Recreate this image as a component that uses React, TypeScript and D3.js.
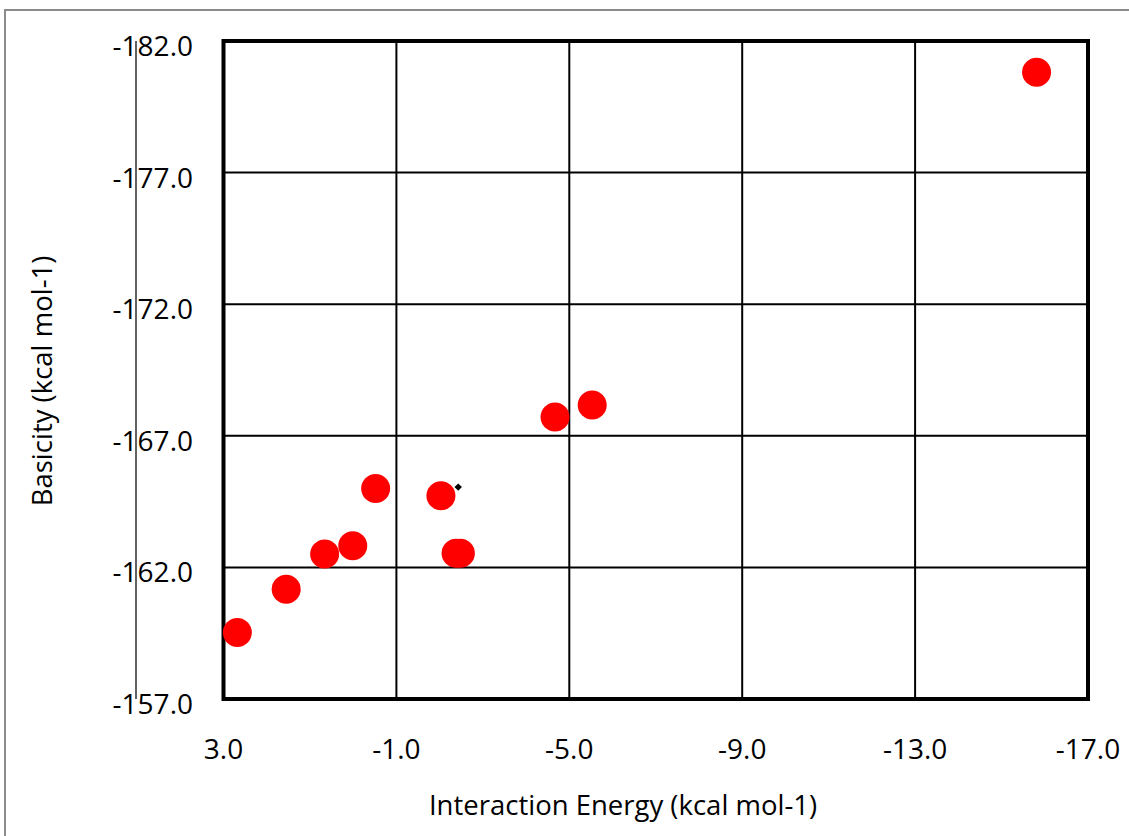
import * as d3 from 'd3';

// interaction energy (x) vs basicity (y), both kcal mol-1
const energy = [2.68, 1.55, 0.66, 0.01, -0.52, -2.03, -2.38, -2.48, -4.67, -5.53, -15.81];
const basicity = [-159.53, -161.17, -162.51, -162.82, -165.0, -164.72, -162.54, -162.54, -167.71, -168.17, -180.81];

// the tiny black marker next to the -2.0 point
const markEnergy = [-2.43];
const markBasicity = [-165.05];

const xTicks = [3, -1, -5, -9, -13, -17];
const yTicks = [-157, -162, -167, -172, -177, -182];

const W = 1129;
const H = 836;
const margin = { top: 41, right: 41, bottom: 137, left: 223.5 };
const FONT = '"Open Sans", Lato, sans-serif';

export default function App() {
  const x = d3.scaleLinear().domain([3, -17]).range([margin.left, W - margin.right]);
  const y = d3.scaleLinear().domain([-157, -182]).range([H - margin.bottom, margin.top]);
  const [x0, x1] = x.range();
  const [y0, y1] = y.range();

  const marker = d3.symbol().type(d3.symbolSquare).size(28)();

  return (
    <div style={{ position: 'absolute', left: 0, top: 0 }}>
      <svg width={W} height={H} style={{ display: 'block', background: '#fff' }}>
        {/* outer frame */}
        <rect x={5} y={10} width={1300} height={1000} fill="none" stroke="#8c8c8c" strokeWidth={2} />

        {/* stray axis line left of the labels */}
        <line x1={136} x2={136} y1={y1} y2={y0} stroke="#3a3a3a" strokeWidth={1.6} />

        {/* grid */}
        {xTicks.map((t) => (
          <line key={'gx' + t} x1={x(t)} x2={x(t)} y1={y1} y2={y0} stroke="#000" strokeWidth={2} />
        ))}
        {yTicks.map((t) => (
          <line key={'gy' + t} x1={x0} x2={x1} y1={y(t)} y2={y(t)} stroke="#000" strokeWidth={2} />
        ))}
        <rect x={x0} y={y1} width={x1 - x0} height={y0 - y1} fill="none" stroke="#000" strokeWidth={4} />

        {/* tick labels */}
        {yTicks.map((t) => (
          <text key={'ty' + t} x={193} y={y(t) + 15} textAnchor="end" fontFamily={FONT} fontSize={28} fill="#000">
            {t.toFixed(1)}
          </text>
        ))}
        {xTicks.map((t) => (
          <text key={'tx' + t} x={x(t)} y={y0 + 60} textAnchor="middle" fontFamily={FONT} fontSize={28} fill="#000">
            {t.toFixed(1)}
          </text>
        ))}

        {/* axis titles */}
        <text x={623} y={815} textAnchor="middle" fontFamily={FONT} fontSize={27.5} fill="#000">
          Interaction Energy (kcal mol-1)
        </text>
        <text
          transform={`translate(52,381) rotate(-90)`}
          textAnchor="middle"
          fontFamily={FONT}
          fontSize={27.5}
          fill="#000"
        >
          Basicity (kcal mol-1)
        </text>

        {/* points */}
        {energy.map((e, i) => (
          <circle key={'p' + i} cx={x(e)} cy={y(basicity[i])} r={14.5} fill="#ff0000" />
        ))}
        {markEnergy.map((e, i) => (
          <path
            key={'m' + i}
            d={marker}
            transform={`translate(${x(e)},${y(markBasicity[i])}) rotate(45)`}
            fill="#000"
          />
        ))}
      </svg>
    </div>
  );
}
